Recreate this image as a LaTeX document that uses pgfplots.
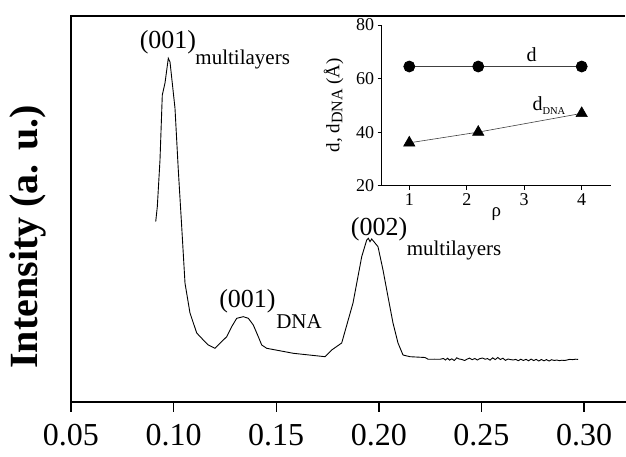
\documentclass[border=0pt]{standalone}
\usepackage{fontspec}
\setmainfont{Liberation Serif}
\usepackage{pgfplots}
\pgfplotsset{compat=1.18}
\begin{document}
\begin{tikzpicture}
\fill[black] (70.2pt,440.4pt) rectangle (625pt,442.4pt);
\begin{axis}[
  at={(71pt,55pt)}, anchor=south west,
  scale only axis, width=555pt, height=387pt,
  xmin=0.05, xmax=0.32047, ymin=0, ymax=387,
  axis x line=bottom, axis y line=left,
  axis line style={-, line width=1.6pt},
  xtick={0.05,0.10,0.15,0.20,0.25,0.30},
  xticklabels={0.05,0.10,0.15,0.20,0.25,0.30},
  ytick=\empty,
  tick align=outside, major tick length=10pt,
  every tick/.style={black, line width=1.4pt},
  xticklabel style={font=\fontsize{32}{38}\selectfont, yshift=-9pt},
  clip=false,
]
\addplot[black, line width=0.9pt] coordinates {
(0.09128,180.3)(0.09206,195.3)(0.09337,242)(0.09449,307)(0.09581,319)(0.09742,343.7)
(0.09825,340)(0.10068,293.7)(0.10229,232)(0.10395,175.3)(0.10556,118.7)(0.10799,89)
(0.11126,69)(0.11447,62)(0.11691,57)(0.12018,53.7)(0.12261,58.7)(0.12588,65.3)
(0.12831,75.3)(0.13075,83.7)(0.13397,85.3)(0.13641,83.7)(0.13884,77)(0.14128,65.3)
(0.14293,57)(0.14537,53.7)(0.15833,48.7)(0.17378,45.3)(0.17705,52)(0.18192,59)
(0.18743,99)(0.19167,145.3)(0.19411,162)(0.19489,163.7)(0.19571,160.3)(0.19654,163)
(0.19815,159)(0.19961,155.3)(0.20205,132)(0.20448,105.3)(0.20692,79)(0.20936,59)
(0.21179,47)(0.21520,45.3)(0.2225,44.5)(0.2240,42.8)(0.2255,42.7)(0.2270,42.8)
(0.2285,42.7)(0.2300,42.8)(0.2315,43.5)(0.2325,42.0)(0.2335,43.8)(0.2345,41.8)
(0.2355,43.2)(0.2368,41.5)(0.2380,44.2)(0.2392,43.0)(0.2405,42.5)(0.2418,41.5)
(0.2430,42.8)(0.2442,43.9)(0.2455,42.3)(0.2468,43.5)(0.2480,42.0)(0.2492,43.3)
(0.2505,44.0)(0.2518,42.8)(0.2530,43.4)(0.2542,41.8)(0.2555,44.2)(0.2567,42.4)
(0.2580,44.5)(0.2592,42.5)(0.2605,43.8)(0.2617,41.6)(0.2630,43.0)(0.2642,42.4)
(0.2655,42.0)(0.2667,42.6)(0.2680,41.3)(0.2692,42.8)(0.2705,41.5)(0.2717,42.7)
(0.2730,41.2)(0.2742,42.9)(0.2755,41.4)(0.2767,42.6)(0.2780,41.0)(0.2792,42.5)
(0.2805,41.2)(0.2817,42.4)(0.2830,41.0)(0.2842,42.3)(0.2855,41.5)(0.2867,42.0)
(0.2880,41.3)(0.2892,41.8)(0.2905,41.5)(0.2917,42.0)(0.2930,42.6)(0.2945,42.4)
(0.2960,42.8)(0.2971,42.6)
};
\node[font=\fontsize{26}{30}\selectfont] at (axis cs:0.09727,360) {(001)};
\node[font=\fontsize{21}{25}\selectfont] at (axis cs:0.13368,343) {multilayers};
\node[font=\fontsize{26}{30}\selectfont] at (axis cs:0.13601,101) {(001)};
\node[font=\fontsize{21}{25}\selectfont] at (axis cs:0.16111,80) {DNA};
\node[font=\fontsize{26}{30}\selectfont] at (axis cs:0.2001,173) {(002)};
\node[font=\fontsize{21}{25}\selectfont] at (axis cs:0.23665,152) {multilayers};
\end{axis}
\node[rotate=90, font=\fontsize{40}{44}\selectfont\bfseries] at (28pt,220pt) {Intensity (a. u.)};
\begin{axis}[
  at={(381.7pt,271.3pt)}, anchor=south west,
  scale only axis, width=229.3pt, height=160.7pt,
  xmin=0.52, xmax=4.51, ymin=20, ymax=80,
  axis x line=bottom, axis y line=left,
  axis line style={-, line width=0.8pt},
  xtick={1,2,3,4}, ytick={20,40,60,80},
  tick align=outside, major tick length=4pt,
  every tick/.style={black, line width=0.6pt},
  ticklabel style={font=\fontsize{18}{21}\selectfont},
  /pgf/number format/assume math mode=true,
  xlabel={ρ},
  ylabel={d, d\raisebox{-3pt}{\fontsize{16}{18}\selectfont DNA} (Å)},
  label style={font=\fontsize{19}{22}\selectfont},
  xlabel style={yshift=5pt},
  ylabel style={yshift=6pt},
  clip=false,
]
\addplot[black!75, line width=0.8pt, mark=*, mark size=5.5pt, mark options={black, solid}] coordinates {(1,64.5)(2.2,64.5)(4,64.5)};
\addplot[black!75, line width=0.6pt, mark=triangle*, mark size=6.5pt, mark options={black, solid}] coordinates {(1,36)(2.2,40)(4,47)};
\node[font=\fontsize{20}{24}\selectfont] at (axis cs:3.13,68.8) {d};
\node[font=\fontsize{20}{24}\selectfont] at (axis cs:3.43,50.1) {d\raisebox{-4pt}{\fontsize{10.5}{12}\selectfont DNA}};
\end{axis}
\pgfresetboundingbox
\path (0,0) rectangle (626pt,457pt);
\end{tikzpicture}
\end{document}
